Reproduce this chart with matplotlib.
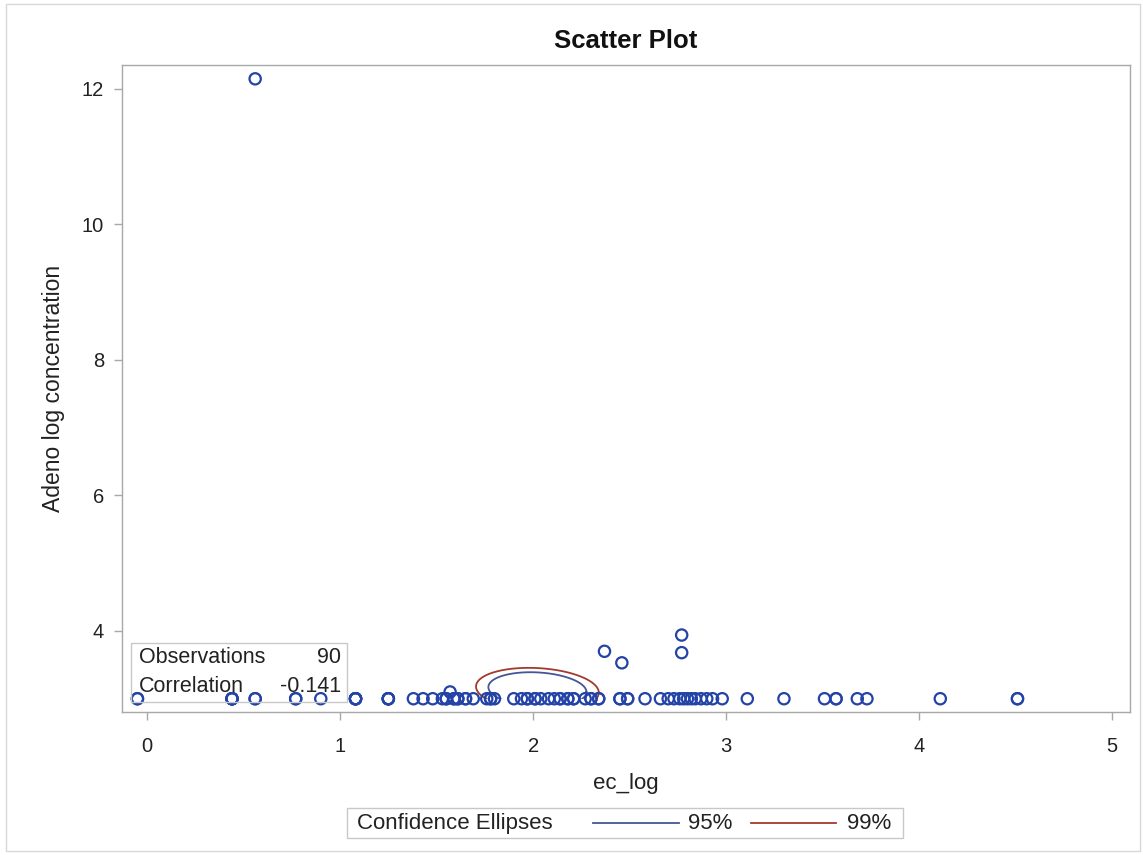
import numpy as np
import matplotlib
matplotlib.use("Agg")
import matplotlib.pyplot as plt
from matplotlib.patches import Rectangle
from matplotlib.lines import Line2D

plt.rcParams['font.family'] = ['Liberation Sans', 'DejaVu Sans']

# ---------------- data ----------------
ec_log = [
    -0.05, -0.05, 0.44, 0.44, 0.44, 0.44, 0.56, 0.56, 0.77, 0.77, 0.90,
    1.08, 1.08, 1.08, 1.08, 1.08, 1.25, 1.25, 1.25, 1.25,
    1.38, 1.43, 1.48, 1.53, 1.55, 1.55, 1.59, 1.59, 1.61, 1.61, 1.65, 1.65, 1.69,
    1.76, 1.78, 1.78, 1.80,
    1.90, 1.94, 1.97, 1.97, 2.01, 2.01, 2.04, 2.08, 2.11,
    2.14, 2.14, 2.18, 2.18, 2.21, 2.21,
    2.27, 2.30, 2.30, 2.34, 2.34,
    2.45, 2.45, 2.49, 2.49,
    2.58, 2.66, 2.70, 2.73, 2.76, 2.78, 2.80, 2.82, 2.84, 2.87, 2.90, 2.93, 2.98,
    3.11, 3.30, 3.51, 3.57, 3.57, 3.68, 3.73, 4.11, 4.51, 4.51,
    0.56, 2.37, 2.46, 2.77, 2.77, 1.57,
]
adeno = [
    3.0, 3.0, 3.0, 3.0, 3.0, 3.0, 3.0, 3.0, 3.0, 3.0, 3.0,
    3.0, 3.0, 3.0, 3.0, 3.0, 3.0, 3.0, 3.0, 3.0,
    3.0, 3.0, 3.0, 3.0, 3.0, 3.0, 3.0, 3.0, 3.0, 3.0, 3.0, 3.0, 3.0,
    3.0, 3.0, 3.0, 3.0,
    3.0, 3.0, 3.0, 3.0, 3.0, 3.0, 3.0, 3.0, 3.0,
    3.0, 3.0, 3.0, 3.0, 3.0, 3.0,
    3.0, 3.0, 3.0, 3.0, 3.0,
    3.0, 3.0, 3.0, 3.0,
    3.0, 3.0, 3.0, 3.0, 3.0, 3.0, 3.0, 3.0, 3.0, 3.0, 3.0, 3.0, 3.0,
    3.0, 3.0, 3.0, 3.0, 3.0, 3.0, 3.0, 3.0, 3.0, 3.0,
    12.15, 3.70, 3.53, 3.94, 3.68, 3.10,
]
n_observations = "90"
correlation_text = "-0.141"
ellipse_levels = [0.95, 0.99]
ellipse_labels = ["95%", "99%"]
ellipse_colors = ["#445694", "#A23A2E"]
x_ticks = [0, 1, 2, 3, 4, 5]
y_ticks = [4, 6, 8, 10, 12]

# ---------------- figure ----------------
W, H = 1143, 855
fig = plt.figure(figsize=(W / 100, H / 100), dpi=100)
fig.patch.set_facecolor("white")

ax_l, ax_r, ax_t, ax_b = 122, 1130, 65, 712
ax = fig.add_axes([ax_l / W, 1 - ax_b / H, (ax_r - ax_l) / W, (ax_b - ax_t) / H])
ax.set_xlim(-0.13, 5.093)
ax.set_ylim(2.804, 12.354)
ax.set_xticks(x_ticks)
ax.set_yticks(y_ticks)
for s in ax.spines.values():
    s.set_color("#a8a8a8")
    s.set_linewidth(1.0)
ax.tick_params(direction="out", length=6, width=1.0, color="#a8a8a8",
               labelsize=14.5, labelcolor="#222222")
ax.tick_params(axis="x", pad=12)
ax.tick_params(axis="y", pad=7)

x = np.array(ec_log)
y = np.array(adeno)

# confidence ellipses for the mean
n = len(x)
p = 2
mean = np.array([x.mean(), y.mean()])
S = np.cov(np.vstack([x, y]))
L = np.linalg.cholesky(S)
t = np.linspace(0, 2 * np.pi, 400)
circle = np.vstack([np.cos(t), np.sin(t)])
clip_rect = Rectangle((-10, y.min()), 30, 30, transform=ax.transData)
for lev, col in zip(ellipse_levels, ellipse_colors):
    d2 = n - p
    fq = d2 / 2.0 * ((1 - lev) ** (-2.0 / d2) - 1)
    c = p * (n - 1) / (n * (n - p)) * fq
    pts = mean[:, None] + np.sqrt(c) * (L @ circle)
    line, = ax.plot(pts[0], pts[1], color=col, lw=1.3, zorder=2)
    line.set_clip_path(clip_rect)

ax.scatter(x, y, s=66, facecolors="none", edgecolors="#2343A7",
           linewidths=1.6, zorder=3)

ax.set_xlabel("ec_log", fontsize=16, color="#222222", labelpad=12)
ax.set_ylabel("Adeno log concentration", fontsize=16.5, color="#222222", labelpad=12)

# inset statistics box
def axf(px, py):
    return ((px - ax_l) / (ax_r - ax_l), (ax_b - py) / (ax_b - ax_t))

bx0, by0 = axf(131, 702)
bx1, by1 = axf(347, 643)
ax.add_patch(Rectangle((bx0, by0), bx1 - bx0, by1 - by0, transform=ax.transAxes,
                       fill=False, edgecolor="#c8c8c8", lw=1.0, clip_on=False, zorder=4))
tx, ty1 = axf(139, 657)
_, ty2 = axf(139, 686)
rx, _ = axf(341, 657)
ax.text(tx, ty1, "Observations", transform=ax.transAxes, fontsize=15.5,
        va="center", ha="left", color="#222222", zorder=5)
ax.text(tx, ty2, "Correlation", transform=ax.transAxes, fontsize=15.5,
        va="center", ha="left", color="#222222", zorder=5)
ax.text(rx, ty1, n_observations, transform=ax.transAxes, fontsize=15.5,
        va="center", ha="right", color="#222222", zorder=5)
ax.text(rx, ty2, correlation_text, transform=ax.transAxes, fontsize=15.5,
        va="center", ha="right", color="#222222", zorder=5)

# title
fig.text((ax_l + ax_r) / 2 / W, 1 - 41 / H, "Scatter Plot", fontsize=18.5,
         fontweight="bold", ha="center", va="center", color="#111111")

# legend below
def ff(px, py):
    return (px / W, 1 - py / H)

lx0, ly0 = ff(347, 838)
lx1, ly1 = ff(903, 808)
fig.patches.append(Rectangle((lx0, ly0), lx1 - lx0, ly1 - ly0, transform=fig.transFigure,
                             fill=False, edgecolor="#c8c8c8", lw=1.0))
cy = 1 - 823 / H
fig.text(357 / W, cy, "Confidence Ellipses", fontsize=16, ha="left", va="center", color="#222222")
seg = [(593, 679, 688), (751, 836, 847)]
for (a, b, tpos), col, lab in zip(seg, ellipse_colors, ellipse_labels):
    fig.lines.append(Line2D([a / W, b / W], [cy, cy], transform=fig.transFigure,
                            color=col, lw=1.3))
    fig.text(tpos / W, cy, lab, fontsize=16, ha="left", va="center", color="#222222")

# outer border
fig.patches.append(Rectangle((6 / W, 1 - 851 / H), (1140 - 6) / W, (851 - 4) / H,
                             transform=fig.transFigure, fill=False,
                             edgecolor="#d8d8d8", lw=1.0))

fig.savefig("out.png", dpi=100)
